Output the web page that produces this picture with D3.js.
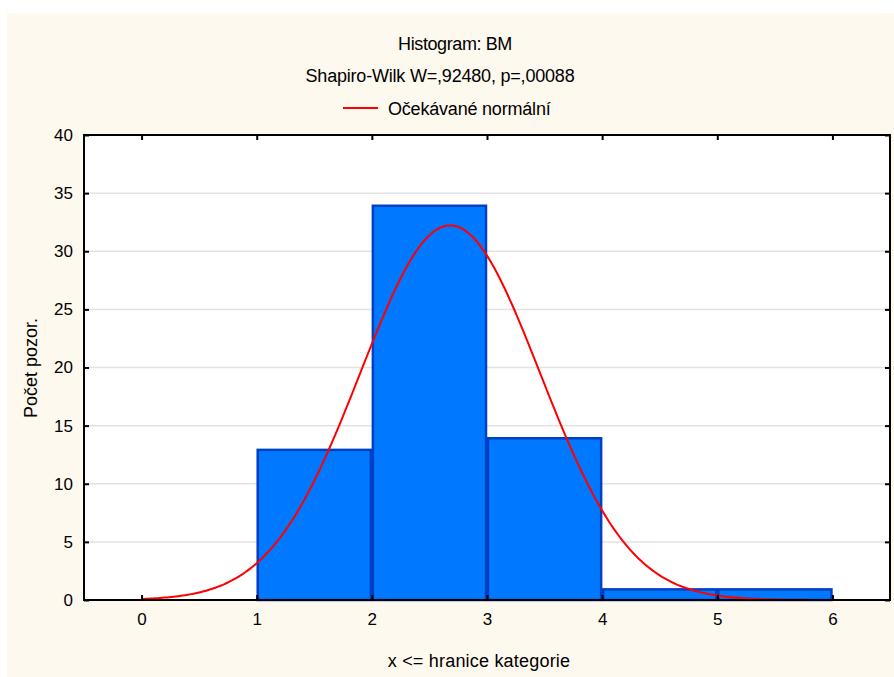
<!DOCTYPE html>
<html>
<head>
<meta charset="utf-8">
<script src="https://cdn.jsdelivr.net/npm/d3@7"></script>
<style>
  html, body { margin: 0; padding: 0; background: #ffffff; }
  svg { display: block; }
  text { font-family: "Liberation Sans", Arial, sans-serif; fill: #000; }
</style>
</head>
<body>
<svg id="chart" width="894" height="677"></svg>
<script>
// Histogram bins: lower/upper boundaries (x <= bound) and counts
const binStarts = [1, 2, 3, 4, 5];
const binEnds = [2, 3, 4, 5, 6];
const binCounts = [13, 34, 14, 1, 1];

// Expected normal curve parameters
const sampleSize = 63;
const fitMean = 2.68;
const fitSd = 0.78;
const binWidth = 1;

const xTicks = [0, 1, 2, 3, 4, 5, 6];
const yTicks = [0, 5, 10, 15, 20, 25, 30, 35, 40];

const titleText = "Histogram: BM";
const subtitleText = "Shapiro-Wilk W=,92480, p=,00088";
const legendText = "Očekávané normální";
const xTitle = "x <= hranice kategorie";
const yTitle = "Počet pozor.";

const svg = d3.select("#chart");

// cream panel
svg.append("rect").attr("x", 7).attr("y", 13).attr("width", 887).attr("height", 664)
  .attr("fill", "#fef9ef");

const plot = { left: 84, top: 135, right: 890, bottom: 600 };

const x = d3.scaleLinear().domain([-0.5, 6.5]).range([plot.left, plot.right]);
const y = d3.scaleLinear().domain([0, 40]).range([plot.bottom, plot.top]);

// plot background
svg.append("rect")
  .attr("x", plot.left).attr("y", plot.top)
  .attr("width", plot.right - plot.left).attr("height", plot.bottom - plot.top)
  .attr("fill", "#ffffff");

// horizontal grid lines
svg.append("g").selectAll("line").data(yTicks.filter(d => d > 0 && d < 40)).join("line")
  .attr("x1", plot.left).attr("x2", plot.right)
  .attr("y1", d => y(d)).attr("y2", d => y(d))
  .attr("stroke", "#e2e2e2").attr("stroke-width", 1.5);

// bars
svg.append("g").selectAll("rect").data(binCounts).join("rect")
  .attr("x", (d, i) => x(binStarts[i]) + 1)
  .attr("y", d => y(d) + 1)
  .attr("width", (d, i) => x(binEnds[i]) - x(binStarts[i]) - 2)
  .attr("height", d => y(0) - y(d) - 1)
  .attr("fill", "#0078ff")
  .attr("stroke", "#0040c4")
  .attr("stroke-width", 2.5);

// expected normal curve
const curvePts = d3.range(0, 6.5001, 0.02).map(v => {
  const z = (v - fitMean) / fitSd;
  return [v, sampleSize * binWidth * Math.exp(-0.5 * z * z) / (fitSd * Math.sqrt(2 * Math.PI))];
});
svg.append("path")
  .datum(curvePts)
  .attr("d", d3.line().x(p => x(p[0])).y(p => y(p[1])))
  .attr("fill", "none").attr("stroke", "#ff0000").attr("stroke-width", 2);

// axes with inward ticks
const axisStyle = g => {
  g.select(".domain").remove();
  g.selectAll(".tick line").attr("stroke", "#000").attr("stroke-width", 2);
  g.selectAll(".tick text").attr("font-size", 17).style("font-family", "'Liberation Sans', Arial, sans-serif");
};

svg.append("g").attr("transform", `translate(0,${plot.bottom})`)
  .call(d3.axisBottom(x).tickValues(xTicks).tickSize(-5).tickPadding(13).tickFormat(d3.format("d")))
  .call(axisStyle);
svg.append("g").attr("transform", `translate(0,${plot.top})`)
  .call(d3.axisTop(x).tickValues(xTicks).tickSize(-5).tickFormat(""))
  .call(axisStyle);
svg.append("g").attr("transform", `translate(${plot.left},0)`)
  .call(d3.axisLeft(y).tickValues(yTicks).tickSize(-5).tickPadding(11).tickFormat(d3.format("d")))
  .call(axisStyle);
svg.append("g").attr("transform", `translate(${plot.right},0)`)
  .call(d3.axisRight(y).tickValues(yTicks).tickSize(-5).tickFormat(""))
  .call(axisStyle);

// frame
svg.append("rect")
  .attr("x", plot.left).attr("y", plot.top)
  .attr("width", plot.right - plot.left).attr("height", plot.bottom - plot.top)
  .attr("fill", "none").attr("stroke", "#000").attr("stroke-width", 2);

// titles
svg.append("text").attr("x", 455).attr("y", 50).attr("text-anchor", "middle")
  .attr("font-size", 18).attr("letter-spacing", -0.4).text(titleText);
svg.append("text").attr("x", 440).attr("y", 82).attr("text-anchor", "middle")
  .attr("font-size", 18).attr("letter-spacing", -0.2).text(subtitleText);

// legend
svg.append("line").attr("x1", 343).attr("x2", 378).attr("y1", 108).attr("y2", 108)
  .attr("stroke", "#ff0000").attr("stroke-width", 2);
svg.append("text").attr("x", 388).attr("y", 115)
  .attr("font-size", 18).attr("letter-spacing", -0.2).text(legendText);

// axis titles
svg.append("text").attr("x", 479).attr("y", 667).attr("text-anchor", "middle")
  .attr("font-size", 18).attr("letter-spacing", 0.2).text(xTitle);
svg.append("text").attr("transform", "translate(37,368) rotate(-90)").attr("text-anchor", "middle")
  .attr("font-size", 18).attr("letter-spacing", 0).text(yTitle);
</script>
</body>
</html>
